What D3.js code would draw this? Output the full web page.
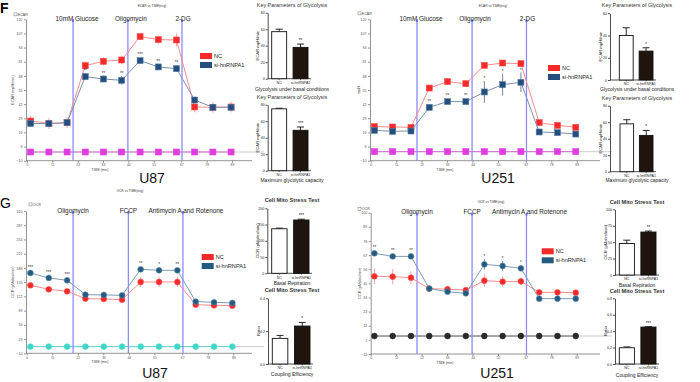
<!DOCTYPE html>
<html>
<head>
<meta charset="utf-8">
<script src="https://cdn.jsdelivr.net/npm/d3@7"></script>
<style>
  body { margin: 0; background: #fff; }
  svg { display: block; font-family: "Liberation Sans", Arial, sans-serif; }
</style>
</head>
<body>
<svg id="fig" width="700" height="382"></svg>
<script>
// ---- data ----
const groups = ["NC", "si-hnRNPA1"];
const times = [1.6, 9.5, 17.4, 25.3, 33.2, 41.1, 49.1, 57.0, 64.9, 72.8, 80.7, 88.6];
const timeTicks = [0, 11, 22, 33, 44, 55, 67, 78, 89];
const injectTimes = [20, 43.8, 67.3];
const ecarInjections = ["10mM Glucose", "Oligomycin", "2-DG"];
const ocrInjections = ["Oligomycin", "FCCP", "Antimycin A and Rotenone"];

const ecarTicks = [-10, 3, 16, 29, 42, 55, 68, 81, 94, 107, 120];
const ocrU87Ticks = [-10, 23, 56, 89, 122, 155, 188, 221, 254, 287, 320];
const ocrU251Ticks = [-10, 1, 12, 23, 34, 45, 56, 67, 78, 89, 100];

const ecarU87NC = [26.5, 24.3, 25, 77.4, 81.4, 82.6, 104.1, 101.3, 101, 39.4, 39.1, 39.4];
const ecarU87NCErr = [5, 5, 5, 4, 4, 4, 3, 4, 6, 5, 5, 5];
const ecarU87Si = [24.3, 24, 25, 67.3, 65.1, 63.9, 82, 76.2, 74.6, 45.8, 39.1, 39.1];
const ecarU87SiErr = [3, 3, 3, 3, 3, 4, 2, 3, 3, 3, 3, 3];
const ecarU87Stars = ["", "", "", "**", "**", "**", "***", "**", "**", "", "", ""];
const ecarU87Base = -2;

const ecarU251NC = [21.3, 21, 20.7, 56.8, 62.7, 60.8, 77.7, 79.8, 79.2, 25, 22.5, 20.7];
const ecarU251NCErr = [2, 2, 2, 3, 3, 3, 3, 2, 2, 2, 2, 2];
const ecarU251Si = [17.9, 17, 17.3, 39.1, 44.3, 44.3, 53.2, 59.9, 62.1, 16.4, 15.8, 14.5];
const ecarU251SiErr = [1, 1, 1, 2, 1, 1, 10, 10, 9, 1, 1, 1];
const ecarU251Stars = ["", "", "", "**", "**", "**", "*", "*", "*", "", "", ""];
const ecarU251Base = -1.7;

const ocrU87NC = [147.7, 138.4, 133.8, 116.8, 116, 114.4, 155.4, 155.4, 155.4, 102.8, 101.3, 100.5];
const ocrU87NCErr = [4, 4, 4, 8, 6, 6, 12, 12, 12, 4, 4, 4];
const ocrU87Si = [176.3, 164.7, 159.3, 126, 125.3, 124.5, 184.8, 182.4, 182.4, 109.8, 108.3, 106.7];
const ocrU87SiErr = [3, 3, 3, 3, 3, 3, 4, 4, 4, 3, 3, 3];
const ocrU87Stars = ["***", "***", "***", "", "", "", "**", "*", "**", "", "", ""];
const ocrU87Base = 5.5;

const ocrU251NC = [50.5, 50.2, 49.4, 40.9, 40.4, 39.8, 47.1, 46.3, 46.6, 38, 38, 37.7];
const ocrU251NCErr = [6, 6, 5, 2, 2, 2, 5, 4, 3, 1, 1, 1];
const ocrU251Si = [68.4, 66, 66, 40.9, 38.5, 37.2, 59.8, 58.5, 56.7, 33.1, 33.1, 33.1];
const ocrU251SiErr = [1, 1, 1, 1, 1, 1, 4, 4, 2, 1, 1, 1];
const ocrU251Stars = ["**", "**", "**", "", "", "", "*", "*", "*", "", "", ""];
const ocrU251Base = 4;

// bar panels: [NC, si]
const basalU87 = [57, 38], basalU87Err = [3, 4];
const maxU87 = [75, 49], maxU87Err = [0.7, 4];
const basalU251 = [40, 26], basalU251Err = [7, 3];
const maxU251 = [58, 44], maxU251Err = [5, 6];
const respU87 = [137, 164], respU87Err = [2, 2.5];
const coupU87 = [0.156, 0.231], coupU87Err = [0.018, 0.022];
const respU251 = [48, 65.4], respU251Err = [5, 1.5];
const coupU251 = [0.198, 0.45], coupU251Err = [0.01, 0.005];

// ---- drawing ----
const svg = d3.select("#fig");
svg.append("rect").attr("width", 700).attr("height", 382).attr("fill", "#fff");

const red = "#f42a2a", redLine = "#ff8c8c", redErr = "#ff9a9a";

function drawMarkers(g, pts, x, y, shape, fill, stroke) {
    if (shape === "square") {
        g.selectAll(null).data(pts).join("rect")
            .attr("x", d => x(d.t) - 3).attr("y", d => y(d.v) - 3)
            .attr("width", 6).attr("height", 6)
            .attr("fill", fill).attr("stroke", stroke).attr("stroke-width", 0.6);
    } else {
        g.selectAll(null).data(pts).join("circle")
            .attr("cx", d => x(d.t)).attr("cy", d => y(d.v)).attr("r", 2.9)
            .attr("fill", fill).attr("stroke", stroke).attr("stroke-width", 0.6);
    }
}

function drawKinetic(c) {
    const g = svg.append("g");
    const x = d3.scaleLinear().domain([0, 89]).range(c.xRange);
    const y = d3.scaleLinear()
        .domain([c.ticks[0], c.ticks[c.ticks.length - 1]])
        .range([c.bottom, c.top]);

    // axes
    const ya = g.append("g")
        .attr("transform", "translate(" + c.left + ",0)")
        .call(d3.axisLeft(y).tickValues(c.ticks).tickSize(2).tickPadding(1.5).tickSizeOuter(0));
    ya.attr("font-size", 3.6).attr("font-family", null);
    ya.selectAll("line,path").attr("stroke", "#666").attr("stroke-width", 0.7);
    ya.selectAll("text").attr("fill", "#555");

    const xa = g.append("g")
        .attr("transform", "translate(0," + c.bottom + ")")
        .call(d3.axisBottom(x).tickValues(timeTicks).tickSize(2).tickPadding(0.8).tickSizeOuter(0));
    xa.attr("font-size", 3.4).attr("font-family", null);
    xa.select(".domain").remove();
    xa.selectAll("line").attr("stroke", "#666").attr("stroke-width", 0.7);
    xa.selectAll("text").attr("fill", "#555");
    g.append("line")
        .attr("x1", c.left).attr("x2", c.right)
        .attr("y1", c.bottom).attr("y2", c.bottom)
        .attr("stroke", "#777").attr("stroke-width", 0.8);

    g.append("text").attr("x", c.xLabelX).attr("y", c.bottom + 10)
        .attr("text-anchor", "middle").attr("font-size", 3.4).attr("fill", "#444")
        .text("TIME (min)");
    g.append("text")
        .attr("transform", "translate(" + c.yLabelX + "," + (c.top + c.bottom) / 2 + ")rotate(-90)")
        .attr("text-anchor", "middle").attr("font-size", 3.8).attr("fill", "#444")
        .text(c.yLabel);
    g.append("text").attr("x", c.titleX).attr("y", c.titleY)
        .attr("text-anchor", "middle").attr("font-size", 3.2).attr("fill", "#333")
        .text(c.title);
    g.append("rect").attr("x", c.tagX).attr("y", c.tagY - 2.6)
        .attr("width", 3).attr("height", 3)
        .attr("fill", "none").attr("stroke", "#555").attr("stroke-width", 0.4);
    g.append("text").attr("x", c.tagX + 3.8).attr("y", c.tagY)
        .attr("font-size", 3.6).attr("fill", "#444").text(c.tag);

    // baseline (background) wells
    g.append("line")
        .attr("x1", c.left).attr("x2", c.right + 12)
        .attr("y1", y(c.base)).attr("y2", y(c.base))
        .attr("stroke", "#aaa").attr("stroke-width", 0.6);
    g.append("path")
        .datum(times)
        .attr("d", d3.line().x(t => x(t)).y(() => y(c.base)))
        .attr("stroke", c.baseLine).attr("stroke-width", 1).attr("fill", "none");
    drawMarkers(g, times.map(t => ({ t: t, v: c.base })), x, y, c.shape, c.baseColor, c.baseColor);

    // injection lines
    g.selectAll(".inj").data(injectTimes).join("line")
        .attr("x1", d => x(d)).attr("x2", d => x(d))
        .attr("y1", c.top).attr("y2", c.bottom)
        .attr("stroke", "#8c8cff").attr("stroke-width", 1.3);
    g.selectAll(".arr").data(injectTimes).join("path")
        .attr("d", d => "M" + (x(d) - 1.4) + "," + (c.top + 2.5) + "L" + x(d) + "," + c.top + "L" + (x(d) + 1.4) + "," + (c.top + 2.5) + "Z")
        .attr("fill", "#6060ff");
    g.selectAll(".injl").data(c.injections).join("text")
        .attr("x", (d, i) => x(injectTimes[i]) + c.injDx[i])
        .attr("y", c.top + 1.6)
        .attr("text-anchor", "middle").attr("font-size", 6.4).attr("fill", "#222")
        .text(d => d);

    // series
    const series = [
        { vals: c.nc, err: c.ncErr, line: redLine, errC: redErr, fill: red, stroke: "#ff5050" },
        { vals: c.si, err: c.siErr, line: c.blueLine, errC: c.blueErr, fill: c.blue, stroke: c.blueEdge }
    ];
    series.forEach(s => {
        const pts = times.map((t, i) => ({ t: t, v: s.vals[i], e: s.err[i] }));
        g.selectAll(null).data(pts).join("line")
            .attr("x1", d => x(d.t)).attr("x2", d => x(d.t))
            .attr("y1", d => y(d.v - d.e)).attr("y2", d => y(d.v + d.e))
            .attr("stroke", s.errC).attr("stroke-width", 0.9);
        g.append("path").datum(pts)
            .attr("d", d3.line().x(d => x(d.t)).y(d => y(d.v)))
            .attr("fill", "none").attr("stroke", s.line).attr("stroke-width", 1);
        drawMarkers(g, pts, x, y, c.shape, s.fill, s.stroke);
    });

    // significance
    g.selectAll(null).data(times).join("text")
        .attr("x", t => x(t))
        .attr("y", (t, i) => Math.min(y(c.si[i] + c.siErr[i]), y(c.si[i]) - 3.5) - 0.8)
        .attr("text-anchor", "middle").attr("font-size", 4.5).attr("fill", "#333")
        .text((t, i) => c.stars[i]);

    // legend
    const lg = g.append("g");
    lg.selectAll("rect").data(groups).join("rect")
        .attr("x", c.legendX).attr("y", (d, i) => c.legendY + i * 9)
        .attr("width", 12).attr("height", 6)
        .attr("fill", (d, i) => i ? c.blue : red);
    lg.selectAll("text").data(groups).join("text")
        .attr("x", c.legendX + 14).attr("y", (d, i) => c.legendY + 5 + i * 9)
        .attr("font-size", 5.6).attr("fill", "#222")
        .text(d => d);

    svg.append("text").attr("x", c.cellX).attr("y", c.cellY)
        .attr("text-anchor", "middle").attr("font-size", 14).attr("fill", "#111")
        .text(c.cell);
}

function drawBars(c) {
    const g = svg.append("g");
    const top = c.ticks[c.ticks.length - 1];
    const y = d3.scaleLinear().domain([0, top]).range([c.bottom, c.top]);
    const x = d3.scaleBand().domain(groups).range(c.xRange).paddingInner(0.3);

    const ya = g.append("g")
        .attr("transform", "translate(" + c.axisX + ",0)")
        .call(d3.axisLeft(y).tickValues(c.ticks).tickSize(2).tickPadding(1).tickSizeOuter(0)
            .tickFormat(d3.format(c.fmt)));
    ya.attr("font-size", 3.6).attr("font-family", null);
    ya.selectAll("line,path").attr("stroke", "#222").attr("stroke-width", 0.8);
    ya.selectAll("text").attr("fill", "#222");
    g.append("line")
        .attr("x1", c.axisX).attr("x2", c.xRange[1] + 3)
        .attr("y1", c.bottom).attr("y2", c.bottom)
        .attr("stroke", "#222").attr("stroke-width", 0.8);
    g.selectAll(null).data(groups).join("line")
        .attr("x1", d => x(d) + x.bandwidth() / 2).attr("x2", d => x(d) + x.bandwidth() / 2)
        .attr("y1", c.bottom).attr("y2", c.bottom + 1.5)
        .attr("stroke", "#222").attr("stroke-width", 0.6);

    const rows = groups.map((d, i) => ({ g: d, v: c.vals[i], e: c.errs[i] }));
    g.selectAll(null).data(rows).join("line")
        .attr("x1", d => x(d.g) + x.bandwidth() / 2).attr("x2", d => x(d.g) + x.bandwidth() / 2)
        .attr("y1", d => y(d.v)).attr("y2", d => y(d.v + d.e))
        .attr("stroke", "#111").attr("stroke-width", 0.9);
    g.selectAll(null).data(rows).join("line")
        .attr("x1", d => x(d.g) + x.bandwidth() / 2 - 3.5).attr("x2", d => x(d.g) + x.bandwidth() / 2 + 3.5)
        .attr("y1", d => y(d.v + d.e)).attr("y2", d => y(d.v + d.e))
        .attr("stroke", "#111").attr("stroke-width", 0.9);
    g.selectAll(null).data(rows).join("rect")
        .attr("x", d => x(d.g)).attr("y", d => y(d.v))
        .attr("width", x.bandwidth()).attr("height", d => c.bottom - y(d.v))
        .attr("fill", (d, i) => i ? "#20140f" : "#fff")
        .attr("stroke", "#111").attr("stroke-width", 0.9);

    g.append("text")
        .attr("x", x(groups[1]) + x.bandwidth() / 2)
        .attr("y", y(c.vals[1] + c.errs[1]) - 2)
        .attr("text-anchor", "middle").attr("font-size", 4.5).attr("fill", "#222")
        .text(c.star);

    g.selectAll(null).data(groups).join("text")
        .attr("x", d => x(d) + x.bandwidth() / 2).attr("y", c.bottom + 5.2)
        .attr("text-anchor", "middle").attr("font-size", 3.6).attr("fill", "#222")
        .text(d => d);
    g.append("text")
        .attr("transform", "translate(" + (c.axisX - 8.5) + "," + (c.top + c.bottom) / 2 + ")rotate(-90)")
        .attr("text-anchor", "middle").attr("font-size", 4.2).attr("fill", "#222")
        .text(c.yLabel);
    g.append("text").attr("x", c.titleX).attr("y", c.titleY)
        .attr("text-anchor", "middle").attr("font-size", c.bold ? 5.6 : 5.4)
        .attr("font-weight", c.bold ? "bold" : "normal").attr("fill", "#333")
        .text(c.title);
    g.append("text").attr("x", c.titleX).attr("y", c.subY)
        .attr("text-anchor", "middle").attr("font-size", 5).attr("fill", "#222")
        .text(c.sub);
}

// panel letters
svg.append("text").attr("x", 0).attr("y", 13).attr("font-size", 14).attr("font-weight", "bold").text("F");
svg.append("text").attr("x", 0).attr("y", 208).attr("font-size", 14).text("G");

const ecarCommon = {
    ticks: ecarTicks, shape: "square", injections: ecarInjections, injDx: [4, 3, 1],
    title: "ECAR vs TIME(ecg)", tag: "ECAR", yLabel: "ECAR (mpH/min)",
    baseColor: "#e03ce0", baseLine: "#d46ad4",
    blue: "#244f7c", blueEdge: "#5a7fa8", blueLine: "#7792ae", blueErr: "#5c7898"
};
const ocrCommon = {
    shape: "circle", injections: ocrInjections, injDx: [0, 0, 3],
    title: "OCR vs TIME(ecg)", tag: "OCR", yLabel: "OCR (pMoles/min)",
    blue: "#245c80", blueEdge: "#5a86a8", blueLine: "#7b9cb8", blueErr: "#5d7d98"
};

drawKinetic(Object.assign({}, ecarCommon, {
    left: 26, right: 252, top: 19.3, bottom: 160.7, xRange: [27, 232],
    nc: ecarU87NC, ncErr: ecarU87NCErr, si: ecarU87Si, siErr: ecarU87SiErr,
    stars: ecarU87Stars, base: ecarU87Base,
    titleX: 152, titleY: 7, tagX: 14, tagY: 15.5, yLabelX: 14, xLabelX: 100,
    legendX: 200, legendY: 53, cell: "U87", cellX: 152, cellY: 183
}));
drawKinetic(Object.assign({}, ecarCommon, {
    left: 370, right: 600, top: 19.3, bottom: 160.7, xRange: [370.7, 576.7],
    nc: ecarU251NC, ncErr: ecarU251NCErr, si: ecarU251Si, siErr: ecarU251SiErr,
    stars: ecarU251Stars, base: ecarU251Base, yLabel: "mpH",
    titleX: 493, titleY: 7, tagX: 358, tagY: 14.5, yLabelX: 360, xLabelX: 445,
    legendX: 548, legendY: 65, cell: "U251", cellX: 498, cellY: 183
}));
drawKinetic(Object.assign({}, ocrCommon, {
    left: 26, right: 252, top: 211, bottom: 353.3, xRange: [26.7, 233.3],
    ticks: ocrU87Ticks, baseColor: "#3fd8c8", baseLine: "#66d6d0",
    nc: ocrU87NC, ncErr: ocrU87NCErr, si: ocrU87Si, siErr: ocrU87SiErr,
    stars: ocrU87Stars, base: ocrU87Base,
    titleX: 130, titleY: 192, tagX: 29, tagY: 205.5, yLabelX: 14, xLabelX: 100,
    legendX: 201.7, legendY: 254, cell: "U87", cellX: 155, cellY: 378
}));
drawKinetic(Object.assign({}, ocrCommon, {
    left: 370.7, right: 600, top: 212.7, bottom: 354, xRange: [370.7, 576.7],
    ticks: ocrU251Ticks, baseColor: "#2a2a2a", baseLine: "#666",
    nc: ocrU251NC, ncErr: ocrU251NCErr, si: ocrU251Si, siErr: ocrU251SiErr,
    stars: ocrU251Stars, base: ocrU251Base,
    titleX: 491, titleY: 203, tagX: 358, tagY: 210, yLabelX: 361, xLabelX: 445,
    legendX: 541.7, legendY: 248.3, cell: "U251", cellX: 497, cellY: 378
}));

const glyco = { title: "Key Parameters of Glycolysis", yLabel: "ECAR mpH/min", fmt: "d", bold: false };
const mito = { title: "Cell Mito Stress Test", bold: true };

drawBars(Object.assign({}, glyco, {
    axisX: 267.7, top: 12.7, bottom: 78.7, xRange: [271.7, 308], ticks: [0, 20, 40, 60, 80],
    vals: basalU87, errs: basalU87Err, star: "**",
    titleX: 292, titleY: 7, sub: "Glycolysis under basal conditions", subY: 90.5
}));
drawBars(Object.assign({}, glyco, {
    axisX: 267.7, top: 104.7, bottom: 170.7, xRange: [271.7, 308], ticks: [0, 20, 40, 60, 80],
    vals: maxU87, errs: maxU87Err, star: "***",
    titleX: 292, titleY: 99, sub: "Maximum glycolytic capacity", subY: 182
}));
drawBars(Object.assign({}, glyco, {
    axisX: 610, top: 13.3, bottom: 80, xRange: [619.3, 653], ticks: [0, 20, 40, 60],
    vals: basalU251, errs: basalU251Err, star: "*",
    titleX: 637, titleY: 7, sub: "Glycolysis under basal conditions", subY: 91
}));
drawBars(Object.assign({}, glyco, {
    axisX: 610, top: 105.7, bottom: 171.7, xRange: [620, 653], ticks: [0, 20, 40, 60, 80],
    vals: maxU251, errs: maxU251Err, star: "*",
    titleX: 637, titleY: 100, sub: "Maximum glycolytic capacity", subY: 182
}));
drawBars(Object.assign({}, mito, {
    axisX: 267.3, top: 208.3, bottom: 273.3, xRange: [271.7, 309], ticks: [0, 50, 100, 150, 200],
    fmt: "d", yLabel: "OCR (pMoles/min)", vals: respU87, errs: respU87Err, star: "***",
    titleX: 292, titleY: 202, sub: "Basal Repiration", subY: 285
}));
drawBars(Object.assign({}, mito, {
    axisX: 268, top: 298.3, bottom: 364, xRange: [272.3, 310], ticks: [0, 0.2, 0.4],
    fmt: ".1f", yLabel: "Ratio", vals: coupU87, errs: coupU87Err, star: "*",
    titleX: 292, titleY: 292, sub: "Coupling Efficiency", subY: 376
}));
drawBars(Object.assign({}, mito, {
    axisX: 615, top: 209.3, bottom: 275, xRange: [619.3, 656], ticks: [0, 25, 50, 75, 100],
    fmt: "d", yLabel: "OCR (pMoles/min)", vals: respU251, errs: respU251Err, star: "**",
    titleX: 637, titleY: 203.5, sub: "Basal Repiration", subY: 287
}));
drawBars(Object.assign({}, mito, {
    axisX: 615, top: 298.3, bottom: 364, xRange: [619.3, 656], ticks: [0, 0.2, 0.4, 0.6, 0.8],
    fmt: ".1f", yLabel: "Ratio", vals: coupU251, errs: coupU251Err, star: "***",
    titleX: 637, titleY: 293, sub: "Coupling Efficiency", subY: 377
}));
</script>
</body>
</html>
